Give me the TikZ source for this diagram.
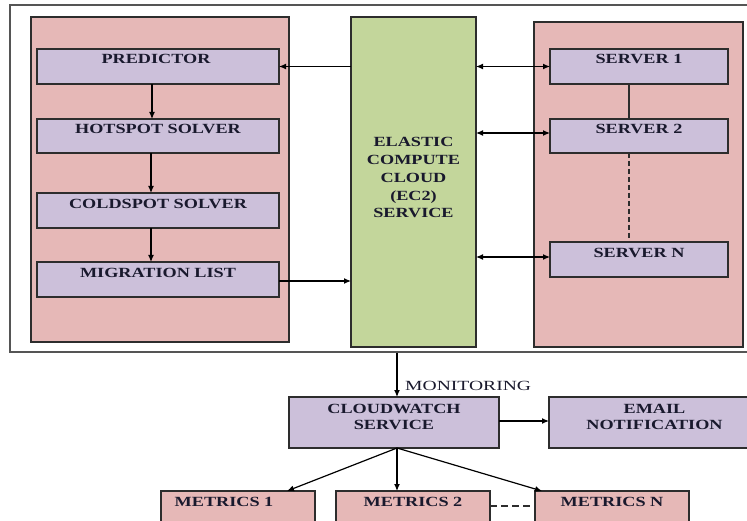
\documentclass[tikz,border=0pt]{standalone}
\usepackage{fontspec}
\setmainfont{Liberation Serif}
\usetikzlibrary{arrows.meta}
\definecolor{pinkfill}{RGB}{230,184,183}
\definecolor{lavfill}{RGB}{204,192,218}
\definecolor{grnfill}{RGB}{195,214,155}
\definecolor{edge}{RGB}{45,45,45}
\definecolor{txt}{RGB}{25,25,45}
\newcommand\lb[2][17.75]{\scalebox{1.3}[1]{\fontsize{14}{#1}\selectfont\begin{tabular}[t]{@{}c@{}}#2\end{tabular}}}
\tikzset{
  boxbase/.style={draw=edge, line width=1.4pt, inner sep=0pt, outer sep=0pt},
  panel/.style={boxbase, fill=pinkfill},
  lav/.style={boxbase, fill=lavfill},
  grn/.style={boxbase, fill=grnfill},
  mbox/.style={boxbase, fill=pinkfill},
  lbl/.style={inner sep=0pt, text=txt, font=\bfseries, anchor=base},
  arr/.style={draw=black, line width=1.2pt, -{Latex[length=7pt,width=6pt]}},
  darr/.style={draw=black, line width=1.2pt, {Latex[length=7pt,width=6pt]}-{Latex[length=7pt,width=6pt]}},
  conn/.style={draw=edge, line width=1.3pt},
}
\begin{document}
\begin{tikzpicture}[x=1pt, y=-1pt]
\useasboundingbox (0,0) rectangle (747,521);
% outer frame
\node[draw={rgb,255:red,85;green,85;blue,85}, line width=1.4pt, inner sep=0pt, minimum width=750pt, minimum height=347pt] (outer) at (385,178.5) {};
% panels
\node[panel, minimum width=258pt, minimum height=325pt] (lp) at (160,179.5) {};
\node[grn, minimum width=125pt, minimum height=330pt] (ec2) at (413.5,182) {};
\node[panel, minimum width=209pt, minimum height=325pt] (rp) at (638.5,184.5) {};
% left boxes
\node[lav, minimum width=242pt, minimum height=35pt] (pred) at (158,66.5) {};
\node[lav, minimum width=242pt, minimum height=34pt] (hot) at (158,136) {};
\node[lav, minimum width=242pt, minimum height=35pt] (cold) at (158,210.5) {};
\node[lav, minimum width=242pt, minimum height=35pt] (mig) at (158,279.5) {};
% servers
\node[lav, minimum width=178pt, minimum height=35pt] (s1) at (639,66.5) {};
\node[lav, minimum width=178pt, minimum height=34pt] (s2) at (639,136) {};
\node[lav, minimum width=178pt, minimum height=35pt] (sN) at (639,259.5) {};
% bottom
\node[lav, minimum width=210pt, minimum height=51pt] (cw) at (394,422.5) {};
\node[lav, minimum width=211pt, minimum height=51pt] (email) at (654.5,422.5) {};
\node[mbox, minimum width=154pt, minimum height=49pt] (m1) at (238,515.5) {};
\node[mbox, minimum width=154pt, minimum height=49pt] (m2) at (413,515.5) {};
\node[mbox, minimum width=154pt, minimum height=49pt] (mN) at (612,515.5) {};
% labels
\node[lbl] (tpred) at ([xshift=-2pt,yshift=-15pt]pred.north) {\lb{PREDICTOR}};
\node[lbl] (thot) at ([yshift=-15pt]hot.north) {\lb{HOTSPOT SOLVER}};
\node[lbl] (tcold) at ([yshift=-16pt]cold.north) {\lb{COLDSPOT SOLVER}};
\node[lbl] (tmig) at ([yshift=-16pt]mig.north) {\lb{MIGRATION LIST}};
\node[lbl] (ts1) at ([yshift=-14.5pt]s1.north) {\lb{SERVER 1}};
\node[lbl] (ts2) at ([yshift=-15pt]s2.north) {\lb{SERVER 2}};
\node[lbl] (tsN) at ([yshift=-16pt]sN.north) {\lb{SERVER N}};
\node[lbl] (tec2) at (413.5,147) {\lb{ELASTIC\\COMPUTE\\CLOUD\\(EC2)\\SERVICE}};
\node[lbl] (tcw) at ([yshift=-16.5pt]cw.north) {\lb[16]{CLOUDWATCH\\SERVICE}};
\node[lbl] (temail) at ([yshift=-16.5pt]email.north) {\lb[16]{EMAIL\\NOTIFICATION}};
\node[lbl] (tm1) at ([xshift=-14pt,yshift=-15.5pt]m1.north) {\lb{METRICS 1}};
\node[lbl] (tm2) at ([yshift=-15.5pt]m2.north) {\lb{METRICS 2}};
\node[lbl] (tmN) at ([yshift=-15.5pt]mN.north) {\lb{METRICS N}};
% connectors left
\draw[arr] ([xshift=-6pt]pred.south) -- ([xshift=-6pt]hot.north);
\draw[arr] ([xshift=-7pt]hot.south) -- ([xshift=-7pt]cold.north);
\draw[arr] ([xshift=-7pt]cold.south) -- ([xshift=-7pt]mig.north);
\draw[arr] (ec2.west |- pred.east) -- (pred.east);
\draw[arr] ([yshift=-1.5pt]mig.east) -- ([yshift=-1.5pt]ec2.west |- mig.east);
% connectors right
\draw[darr] (ec2.east |- s1.west) -- (s1.west);
\draw[darr] ([yshift=3pt]ec2.east |- s2.west) -- ([yshift=3pt]s2.west);
\draw[darr] ([yshift=2.5pt]ec2.east |- sN.west) -- ([yshift=2.5pt]sN.west);
\draw[conn] ([xshift=-10pt]s1.south) -- ([xshift=-10pt]s2.north);
\draw[conn, dashed, dash pattern=on 5pt off 3pt] ([xshift=-10pt]s2.south) -- ([xshift=-10pt]sN.north);
% bottom connectors
\coordinate (cwtop) at ([xshift=3pt]cw.north);
\coordinate (cwbot) at ([xshift=3pt]cw.south);
\draw[arr] (outer.south -| cwtop) -- (cwtop);
\node[inner sep=0pt, anchor=base west, text=txt] (tmon) at (405,390) {\scalebox{1.4}[1]{\fontsize{14}{16}\selectfont MONITORING}};
\draw[arr] ([yshift=1.5pt]cw.east) -- ([yshift=1.5pt]email.west);
\draw[arr] (cwbot) -- ([xshift=49pt]m1.north);
\draw[arr] (cwbot) -- (m2.north -| cwbot);
\draw[arr] (cwbot) -- ([xshift=7pt]mN.north west);
\draw[conn, dash pattern=on 7pt off 4pt] ([yshift=9.5pt]m2.east) -- ([yshift=9.5pt]mN.west);
\end{tikzpicture}
\end{document}
